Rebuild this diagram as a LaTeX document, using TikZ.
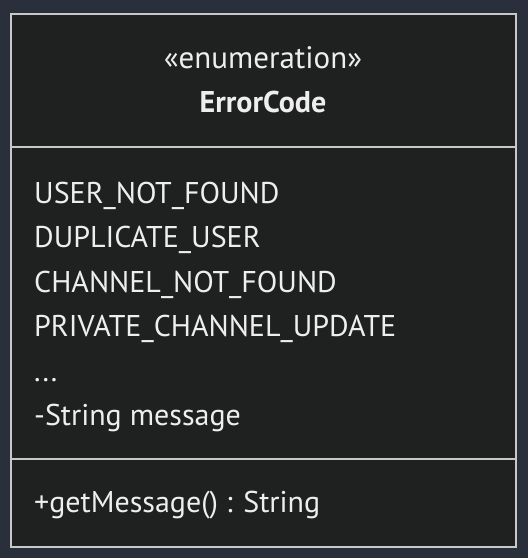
\documentclass[tikz,border=0pt]{standalone}
\usepackage{fontspec}
\setmainfont{PT Sans}
\definecolor{bgc}{HTML}{2A2F3C}
\definecolor{boxc}{HTML}{1F2020}
\definecolor{linec}{HTML}{C8C8C8}
\definecolor{txtc}{HTML}{EEEEEE}
\begin{document}
\begin{tikzpicture}[x=1pt,y=-1pt,
  txt/.style={text=txtc,font=\fontsize{30}{34}\selectfont,inner sep=0pt,anchor=base},
  attr/.style={txt,anchor=base west}]
\useasboundingbox (0,0) rectangle (528,558);
\fill[bgc] (0,0) rectangle (528,558);
\draw[linec,line width=2pt,fill=boxc] (10.5,14) rectangle (515.5,547);
\draw[linec,line width=2pt] (10.5,147) -- (515.5,147);
\draw[linec,line width=2pt] (10.5,459) -- (515.5,459);
\node[txt,font=\fontsize{31}{34}\selectfont] (st) at (263,68) {«enumeration»};
\node[txt,font=\bfseries\fontsize{30}{34}\selectfont] (nm) at (263,112.5) {ErrorCode};
\node[attr] (a1) at (34,203) {USER\_NOT\_FOUND};
\node[attr] (a2) at (34,247.5) {DUPLICATE\_USER};
\node[attr] (a3) at (34,292) {CHANNEL\_NOT\_FOUND};
\node[attr] (a4) at (34,336.5) {PRIVATE\_CHANNEL\_UPDATE};
\node[attr] (a5) at (34,381) {...};
\node[attr] (a6) at (34,425.5) {-String message};
\node[attr] (m1) at (34,512) {+getMessage() : String};
\end{tikzpicture}
\end{document}
